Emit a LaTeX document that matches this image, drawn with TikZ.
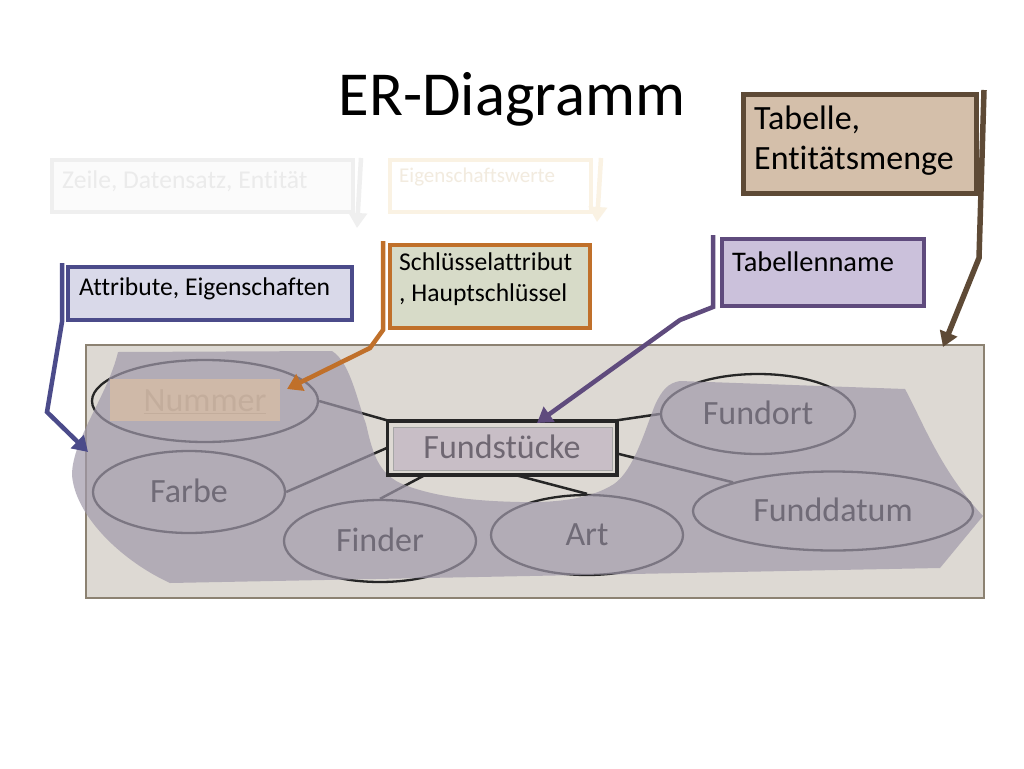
\documentclass[tikz,border=0pt]{standalone}
\usepackage{fontspec}
\setmainfont{Carlito}[Ligatures={NoCommon}]
\usetikzlibrary{shapes.geometric,arrows.meta,calc,shadows}
\definecolor{erdark}{HTML}{262626}
\definecolor{mainfill}{HTML}{DDD9D3}
\definecolor{maindraw}{HTML}{8C8272}
\definecolor{blobc}{HTML}{A099AA}
\definecolor{numhl}{HTML}{D6BCA5}
\definecolor{fshl}{HTML}{BAADBE}
\definecolor{attfill}{HTML}{D9D9E9}
\definecolor{attdraw}{HTML}{4B4B8A}
\definecolor{keyfill}{HTML}{D7DBC8}
\definecolor{keydraw}{HTML}{C0702A}
\definecolor{tnfill}{HTML}{CBC1DB}
\definecolor{tndraw}{HTML}{5F4B7D}
\definecolor{tabfill}{HTML}{D4BFAA}
\definecolor{tabdraw}{HTML}{5E4A36}
\definecolor{fadefill}{HTML}{FBFBFB}
\definecolor{fadedraw}{HTML}{EFEFEF}
\definecolor{fadetext}{HTML}{EBEBEB}
\definecolor{eigdraw}{HTML}{FAF2E3}
\definecolor{eigtext}{HTML}{F2EBDF}
\begin{document}
\begin{tikzpicture}[x=1pt,y=-1pt,
  ent/.style={ellipse, draw=erdark, line width=2.3pt, inner sep=0pt, text=black,
    font=\fontsize{34}{40}\selectfont, text height=21.9pt, text depth=0pt},
  conn/.style={draw=erdark, line width=2.5pt},
  cbox/.style={rectangle, inner sep=0pt, anchor=north west, line width=4pt,
    drop shadow={shadow xshift=2pt, shadow yshift=-2pt, opacity=0.3}},
  fbox/.style={rectangle, inner sep=0pt, anchor=north west, line width=4pt},
  ctext/.style={anchor=base west, inner sep=0pt, text=black},
  pointer/.style={line width=4.5pt, -{Triangle[width=18pt,length=15pt]}},
  fs18/.style={font=\fontsize{25.6}{30}\selectfont},
  fs20/.style={font=\fontsize{28.4}{34}\selectfont},
  fs24/.style={font=\fontsize{34}{41}\selectfont},
  fs14/.style={font=\fontsize{21}{25}\selectfont}
]
\useasboundingbox (0,0) rectangle (1024,768);
\fill[white] (0,0) rectangle (1024,768);

% title
\node[anchor=base, inner sep=0pt, font=\fontsize{62.6}{70}\selectfont] (title) at (512,115) {ER-Diagramm};

% main diagram area
\node[rectangle, fill=mainfill, draw=maindraw, line width=1.5pt, inner sep=0pt,
  minimum width=898pt, minimum height=253pt, anchor=north west] (area) at (85,344) {};

% ER elements
\node[ent, minimum width=226pt, minimum height=82pt] (num) at (205,401) {\underline{Nummer}};
\node[ent, minimum width=192pt, minimum height=82pt] (farbe) at (189,492) {Farbe};
\node[ent, minimum width=192pt, minimum height=82pt] (finder) at (380,541) {Finder};
\node[ent, minimum width=192pt, minimum height=80pt] (art) at (587,535) {Art};
\node[ent, minimum width=194pt, minimum height=80pt] (fundort) at (758,414) {Fundort};
\node[ent, minimum width=280pt, minimum height=79pt] (fdat) at (833,511) {Funddatum};
\node[rectangle, draw=erdark, line width=2.5pt, inner sep=0pt, minimum width=228pt,
  minimum height=53pt, text=black, font=\fontsize{34}{40}\selectfont,
  text height=21.9pt, text depth=0pt] (fs) at (502,448) {Fundstücke};

\draw[conn] (num.east) -- (fs.north west);
\draw[conn] (farbe.east) -- (fs.west);
\draw[conn] (finder.north) -- ($(fs.south west)!0.16!(fs.south east)$);
\draw[conn] (art.north) -- ($(fs.south west)!0.57!(fs.south east)$);
\draw[conn] (fundort.west) -- (fs.north east);
\draw[conn] (fdat.164) -- ($(fs.north east)!0.6!(fs.south east)$);

% translucent highlight blob
\fill[blobc, opacity=0.7] (118,352) -- (332,351)
  .. controls (350,362) and (357,400) .. (366,424)
  .. controls (372,450) and (377,472) .. (400,483)
  .. controls (430,496) and (470,501) .. (520,502)
  .. controls (560,503) and (592,498) .. (614,484)
  .. controls (634,470) and (645,430) .. (655,405)
  .. controls (662,390) and (668,383) .. (680,381)
  -- (905,389)
  .. controls (922,420) and (940,470) .. (983,516)
  -- (940,568) -- (170,583)
  .. controls (120,560) and (75,515) .. (72,475)
  .. controls (72,440) and (108,395) .. (118,352) -- cycle;

\draw[erdark, line width=2.5pt] (fs.south west) rectangle (fs.north east);

% key highlight and table-name highlight
\fill[numhl, opacity=0.82] (110,379) rectangle (280,421);
\filldraw[fill=fshl, fill opacity=0.6, draw=gray!70, line width=1pt] (393,427) rectangle (612,470);

% faded callouts
\node[fbox, fill=fadefill, draw=fadedraw, minimum width=301pt, minimum height=52pt] (zeile) at (50,158) {};
\node[ctext, fs18, text=fadetext] (zeileT) at (62,188) {Zeile, Datensatz, Entität};
\coordinate (zeileTip) at (357,228);
\draw[pointer, fadedraw] ($(zeile.north east)+(6,0)$) -- (zeileTip);

\node[fbox, fill=white, draw=eigdraw, minimum width=201pt, minimum height=52pt] (eig) at (388,158) {};
\node[ctext, fs14, text=eigtext] (eigT) at (399,182) {Eigenschaftswerte};
\coordinate (eigTip) at (597,222);
\draw[pointer, eigdraw] ($(eig.north east)+(8,0)$) -- (eigTip);

% Attribute callout
\node[cbox, fill=attfill, draw=attdraw, minimum width=284pt, minimum height=53pt] (attr) at (66,265) {};
\node[ctext, fs18] (attrT) at (79,295) {Attribute, Eigenschaften};
\coordinate (attrTip) at (88,452);
\draw[pointer, attdraw] ($(attr.north west)+(-4,-2)$) -- ($(attr.south west)+(-4,0)$) -- (47,412) -- (attrTip);

% key callout
\node[cbox, fill=keyfill, draw=keydraw, minimum width=200pt, minimum height=83pt] (key) at (388,243) {};
\node[ctext, fs18] (keyT1) at (399,270) {Schlüsselattribut};
\node[ctext, fs18] (keyT2) at (399,301) {, Hauptschlüssel};
\coordinate (keyTip) at (287,389);
\draw[pointer, keydraw] ($(key.north west)+(-5,-2)$) -- ($(key.south west)+(-5,0)$) -- (370,348) -- (keyTip);

% table name callout
\node[cbox, fill=tnfill, draw=tndraw, minimum width=202pt, minimum height=67pt] (tname) at (720,237) {};
\node[ctext, fs20] (tnameT) at (732,271) {Tabellenname};
\coordinate (tnameTip) at (537,423);
\draw[pointer, tndraw] ($(tname.north west)+(-7,-2)$) -- ($(tname.south west)+(-7,-1)$) -- (680,320) -- (tnameTip);

% table callout
\node[cbox, fill=tabfill, draw=tabdraw, line width=5pt, minimum width=233pt, minimum height=99pt] (tab) at (741,92) {};
\node[ctext, fs24] (tabT1) at (754,129) {Tabelle,};
\node[ctext, fs24] (tabT2) at (754,169.5) {Entitätsmenge};
\coordinate (tabTip) at (943,347);
\draw[pointer, tabdraw, line width=5.5pt] ($(tab.north east)+(5,-2)$) -- (979,258) -- (tabTip);
\end{tikzpicture}
\end{document}
